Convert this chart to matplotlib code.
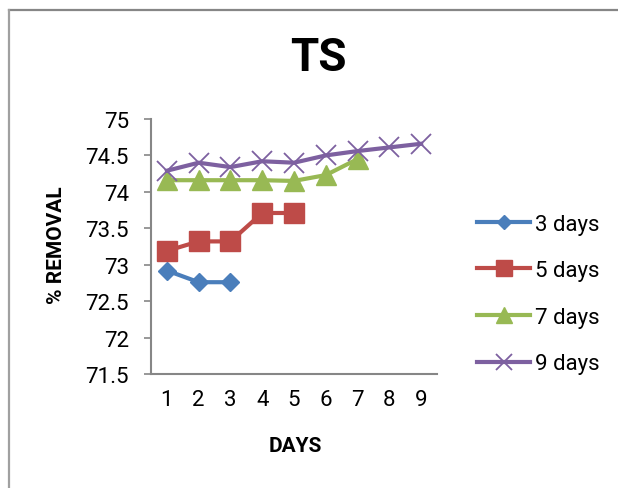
import matplotlib
matplotlib.use("Agg")
import matplotlib.pyplot as plt
from matplotlib.lines import Line2D

plt.rcParams['font.family'] = ['Liberation Sans Narrow', 'Roboto', 'DejaVu Sans']

# values
days_3 = [1, 2, 3]
vals_3 = [72.92, 72.76, 72.76]
days_5 = [1, 2, 3, 4, 5]
vals_5 = [73.19, 73.32, 73.32, 73.71, 73.71]
days_7 = [1, 2, 3, 4, 5, 6, 7]
vals_7 = [74.16, 74.16, 74.16, 74.16, 74.15, 74.23, 74.45]
days_9 = [1, 2, 3, 4, 5, 6, 7, 8, 9]
vals_9 = [74.29, 74.40, 74.34, 74.42, 74.40, 74.50, 74.56, 74.61, 74.66]
labels = ["3 days", "5 days", "7 days", "9 days"]
y_ticks = [71.5, 72, 72.5, 73, 73.5, 74, 74.5, 75]

W, H = 618, 489
fig = plt.figure(figsize=(W / 100, H / 100), dpi=100)
ax = fig.add_axes([151 / W, 1 - 375 / H, 286 / W, 255 / H])

blue, red, green, purple = "#4A7EBB", "#BE4B48", "#98B954", "#7D60A0"
ax.plot(days_3, vals_3, color=blue, lw=3, marker="D", ms=9, label=labels[0])
ax.plot(days_5, vals_5, color=red, lw=3, marker="s", ms=14, label=labels[1])
ax.plot(days_7, vals_7, color=green, lw=3, marker="^", ms=14, label=labels[2])
ax.plot(days_9, vals_9, color=purple, lw=3, marker="x", ms=14, mew=1.3, label=labels[3])

ax.set_xlim(0.5, 9.5)
ax.set_ylim(71.5, 75)
ax.set_yticks(y_ticks)
ax.set_yticklabels([f"{v:g}" for v in y_ticks])
ax.set_xticks(range(1, 10))

for s in ["top", "right"]:
    ax.spines[s].set_visible(False)
for s in ["left", "bottom"]:
    ax.spines[s].set_color("#868686")
    ax.spines[s].set_linewidth(1.5)
ax.tick_params(axis="y", length=5, width=1.2, color="#868686", pad=11, labelsize=16)
ax.tick_params(axis="x", length=0, pad=11, labelsize=16)

fig.text(318 / W, 1 - 58 / H, "TS", ha="center", va="center", fontsize=33, fontweight="bold")
fig.text(57 / W, 1 - 245 / H, "% REMOVAL", ha="center", va="center", rotation=90,
         fontsize=15, fontweight="bold")
fig.text(295 / W, 1 - 447 / H, "DAYS", ha="center", va="center", fontsize=15, fontweight="bold")

ax.legend(loc="center left", bbox_to_anchor=(477 / W, 1 - 295 / H), bbox_transform=fig.transFigure,
          frameon=False, fontsize=16, handlelength=2.4, handletextpad=0.2,
          labelspacing=1.15, markerscale=0.8, borderpad=0, borderaxespad=0)

# outer chart border (top and left only visible)
fig.add_artist(Line2D([9 / W, 1], [1 - 11 / H, 1 - 11 / H], transform=fig.transFigure,
                      color="#868686", lw=1.6))
fig.add_artist(Line2D([9 / W, 9 / W], [0, 1 - 11 / H], transform=fig.transFigure,
                      color="#A0A0A0", lw=1.6))

fig.savefig("out.png", dpi=100)
